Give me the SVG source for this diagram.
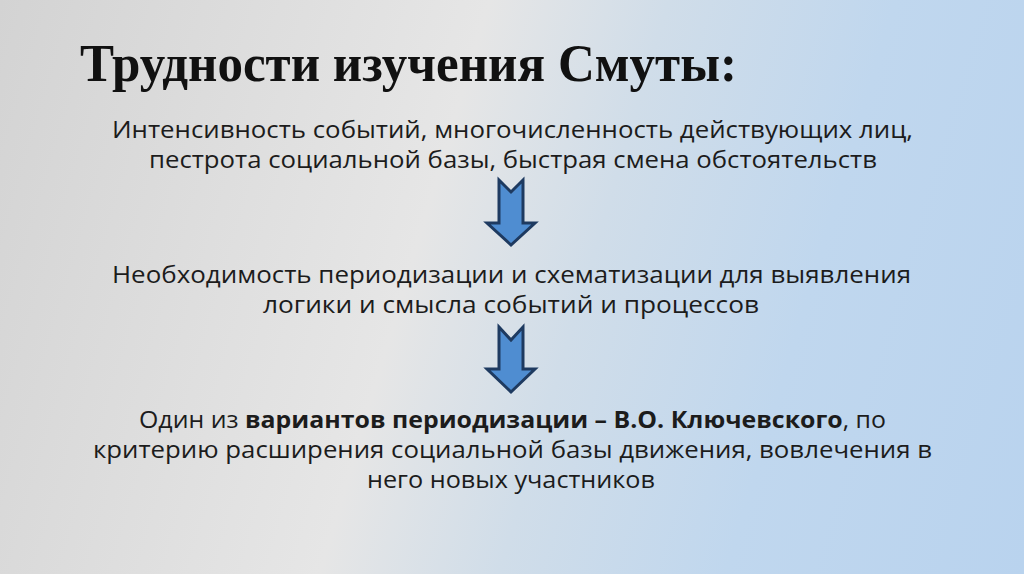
<svg xmlns="http://www.w3.org/2000/svg" width="1024" height="574" viewBox="0 0 1024 574">
  <defs>
    <linearGradient id="bg" gradientUnits="userSpaceOnUse" x1="0" y1="0" x2="1098" y2="325">
      <stop offset="0" stop-color="#d3d3d3"/>
      <stop offset="0.41" stop-color="#e6e6e6"/>
      <stop offset="0.56" stop-color="#d0dde9"/>
      <stop offset="0.75" stop-color="#c0d7ee"/>
      <stop offset="1" stop-color="#b9d3ee"/>
    </linearGradient>
  </defs>
  <style>
    .title { font-family: "Liberation Serif", "DejaVu Serif", serif; font-weight: bold; font-size: 53px; fill: #111111; }
    .body { font-family: "Open Sans", "Noto Sans", "DejaVu Sans", sans-serif; font-size: 24px; fill: #1c1c1c; }
    .b { font-weight: bold; }
    .arrow { fill: #4f8dd1; stroke: #1e3a60; stroke-width: 3; stroke-linejoin: miter; }
  </style>
  <rect x="0" y="0" width="1024" height="574" fill="url(#bg)"/>

  <g id="title">
    <text class="title" x="80" y="81" textLength="657" lengthAdjust="spacingAndGlyphs">Трудности изучения Смуты:</text>
  </g>

  <g id="node1">
    <text class="body" x="512.5" y="137.5" text-anchor="middle" textLength="801" lengthAdjust="spacingAndGlyphs">Интенсивность событий, многочисленность действующих лиц,</text>
    <text class="body" x="513" y="168" text-anchor="middle" textLength="728" lengthAdjust="spacingAndGlyphs">пестрота социальной базы, быстрая смена обстоятельств</text>
  </g>

  <g id="node2">
    <text class="body" x="511.5" y="283" text-anchor="middle" textLength="799" lengthAdjust="spacingAndGlyphs">Необходимость периодизации и схематизации для выявления</text>
    <text class="body" x="511" y="313" text-anchor="middle" textLength="496" lengthAdjust="spacingAndGlyphs">логики и смысла событий и процессов</text>
  </g>

  <g id="node3">
    <text class="body" x="512.5" y="428" text-anchor="middle" textLength="747" lengthAdjust="spacingAndGlyphs">Один из <tspan class="b">вариантов периодизации – В.О. Ключевского</tspan>, по</text>
    <text class="body" x="512.5" y="458" text-anchor="middle" textLength="839" lengthAdjust="spacingAndGlyphs">критерию расширения социальной базы движения, вовлечения в</text>
    <text class="body" x="511" y="488" text-anchor="middle" textLength="288" lengthAdjust="spacingAndGlyphs">него новых участников</text>
  </g>

  <g id="connectors">
    <path class="arrow" d="M499,180 L511,192 L523,180 L523,223 L535,223 L511,245 L487,223 L499,223 Z"/>
    <path class="arrow" d="M499,327 L511,340 L523,327 L523,369 L535,369 L511,392 L487,369 L499,369 Z"/>
  </g>
</svg>
